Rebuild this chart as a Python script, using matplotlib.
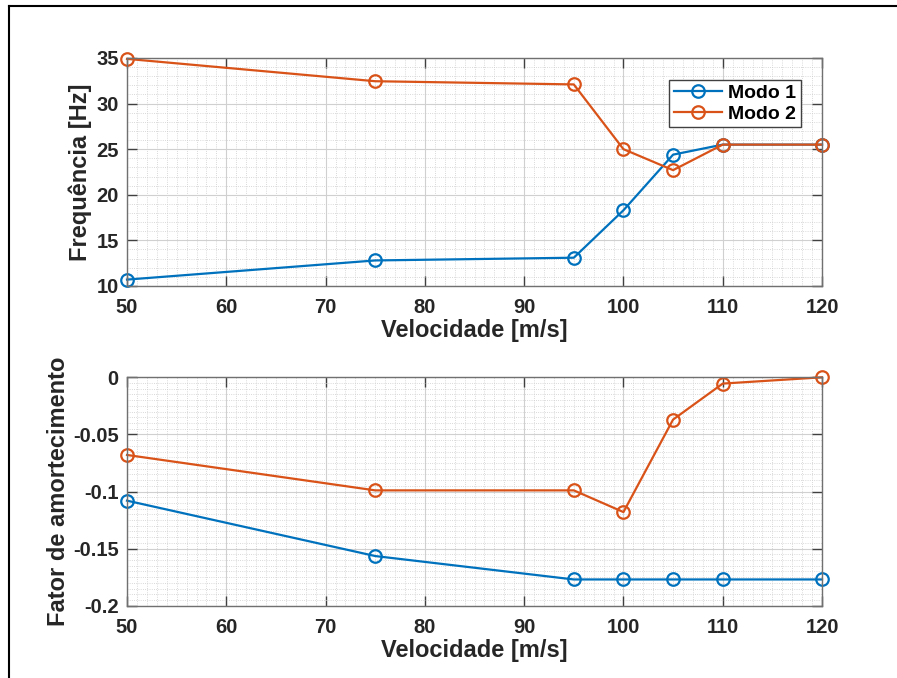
import matplotlib
matplotlib.use('Agg')
import matplotlib.pyplot as plt
from matplotlib.lines import Line2D
from matplotlib.ticker import MultipleLocator

plt.rcParams['font.family'] = ['Liberation Sans', 'DejaVu Sans']
plt.rcParams['font.weight'] = 'bold'

# Dados
velocidade = [50, 75, 95, 100, 105, 110, 120]
freq_modo1 = [10.7, 12.8, 13.1, 18.3, 24.4, 25.5, 25.5]
freq_modo2 = [34.9, 32.45, 32.1, 25.0, 22.7, 25.5, 25.5]
amort_modo1 = [-0.108, -0.1565, -0.177, -0.177, -0.177, -0.177, -0.177]
amort_modo2 = [-0.068, -0.099, -0.099, -0.118, -0.037, -0.0055, 0.0]

azul = '#0072BD'
laranja = '#D95319'
cinza = '#707070'


def estilo(ax, ylim, ymaj, ymin):
    ax.set_xlim(50, 120)
    ax.set_ylim(*ylim)
    ax.xaxis.set_major_locator(MultipleLocator(10))
    ax.xaxis.set_minor_locator(MultipleLocator(1))
    ax.yaxis.set_major_locator(MultipleLocator(ymaj))
    ax.yaxis.set_minor_locator(MultipleLocator(ymin))
    ax.grid(which='major', color='#d0d0d0', linewidth=0.8)
    ax.grid(which='minor', color='#cccccc', linestyle=':', linewidth=0.6)
    ax.set_axisbelow(True)
    ax.tick_params(which='major', direction='in', length=7, width=1,
                   top=True, right=True, color='#404040',
                   labelsize=14.5, pad=6, labelcolor='#262626')
    ax.tick_params(axis='x', which='major', pad=9)
    ax.tick_params(which='minor', length=0, top=True, right=True)
    for s in ax.spines.values():
        s.set_color(cinza)
        s.set_linewidth(1)
    ax.set_xlabel('Velocidade [m/s]', fontsize=17, fontweight='bold',
                  color='#262626', labelpad=1)


fig = plt.figure(figsize=(8.97, 6.78), dpi=100)

ax1 = fig.add_axes([0.1416, 0.5782, 0.7748, 0.3363])
ax1.plot(velocidade, freq_modo1, '-o', color=azul, lw=1.6, ms=9,
         mfc='none', mew=1.6, label='Modo 1', clip_on=False)
ax1.plot(velocidade, freq_modo2, '-o', color=laranja, lw=1.6, ms=9,
         mfc='none', mew=1.6, label='Modo 2', clip_on=False)
estilo(ax1, (10, 35), 5, 1)
ax1.set_ylabel('Frequência [Hz]', fontsize=17, fontweight='bold',
               color='#262626', labelpad=3)
leg = ax1.legend(loc='upper right', bbox_to_anchor=(0.97, 0.905),
                 fontsize=14, fancybox=False, framealpha=1,
                 handlelength=2.5, handletextpad=0.3, borderpad=0.25,
                 labelspacing=0.15, borderaxespad=0)
leg.get_frame().set_edgecolor('#404040')
leg.get_frame().set_linewidth(1)

ax2 = fig.add_axes([0.1416, 0.1066, 0.7748, 0.3369])
ax2.plot(velocidade, amort_modo1, '-o', color=azul, lw=1.6, ms=9,
         mfc='none', mew=1.6, clip_on=False)
ax2.plot(velocidade, amort_modo2, '-o', color=laranja, lw=1.6, ms=9,
         mfc='none', mew=1.6, clip_on=False)
estilo(ax2, (-0.2, 0), 0.05, 0.005)
ax2.set_yticks([-0.2, -0.15, -0.1, -0.05, 0])
ax2.set_yticklabels(['-0.2', '-0.15', '-0.1', '-0.05', '0'])
ax2.set_ylabel('Fator de amortecimento', fontsize=17, fontweight='bold',
               color='#262626', labelpad=2)

# moldura (bordas esquerda e superior)
fig.add_artist(Line2D([9 / 897, 9 / 897], [0, 1 - 6 / 678],
                      transform=fig.transFigure, color='black', lw=1.5))
fig.add_artist(Line2D([9 / 897, 1], [1 - 6 / 678, 1 - 6 / 678],
                      transform=fig.transFigure, color='black', lw=1.5))

fig.savefig('out.png', dpi=100)
